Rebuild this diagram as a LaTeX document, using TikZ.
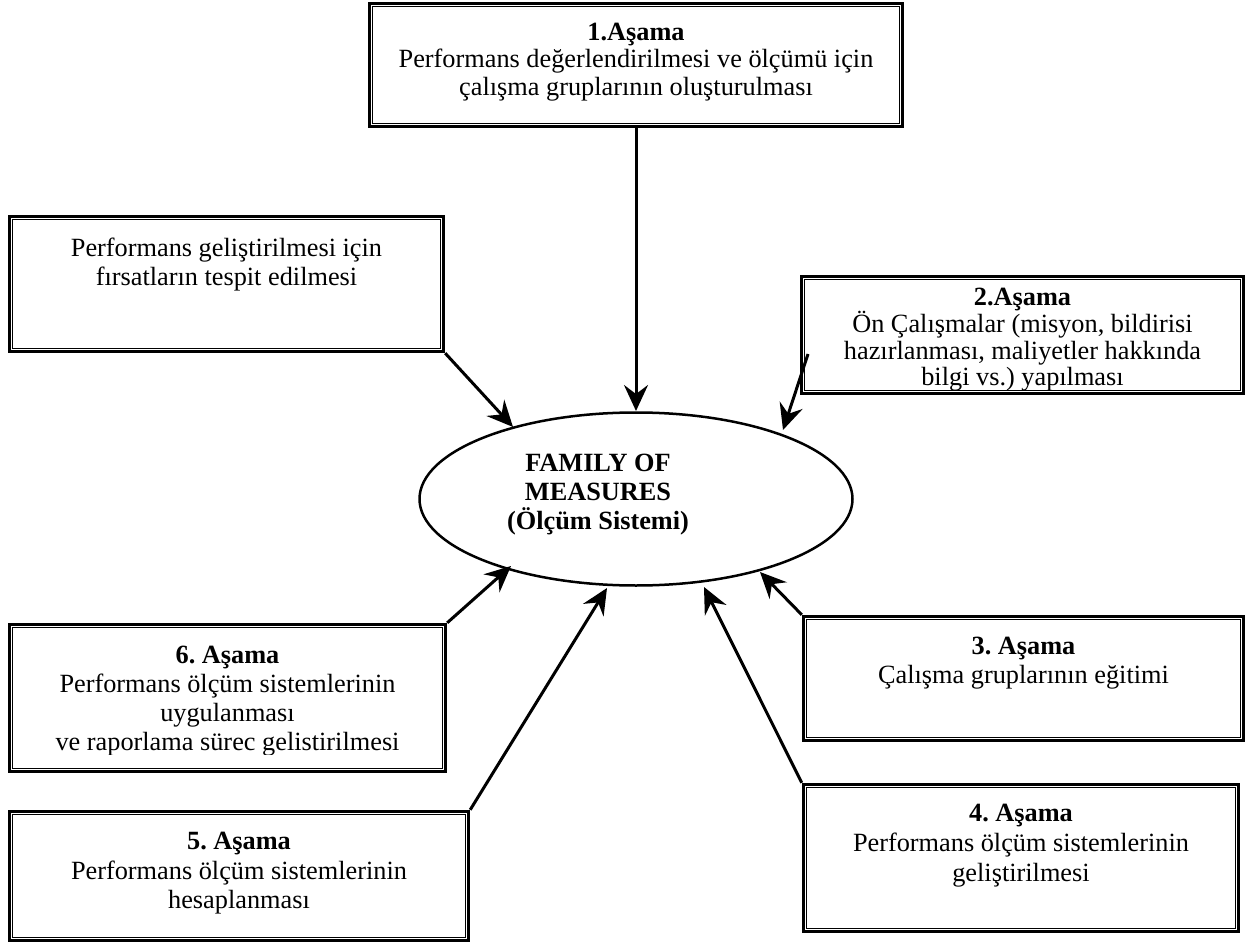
\documentclass[tikz,border=0pt]{standalone}
\usepackage{fontspec}
\setmainfont{Liberation Serif}
\usetikzlibrary{arrows.meta,shapes.geometric}
\begin{document}
\frenchspacing
\begin{tikzpicture}[x=1pt,y=-1pt,
  stagebox/.style={draw, line width=3.4pt, rectangle, inner sep=0pt},
  innerline/.style={line width=1.4pt},
  stagetxt/.style={align=center, anchor=north, inner sep=0pt,
    font=\fontsize{26.3}{#1}\selectfont, execute at begin node=\strut},
  conn/.style={line width=3pt, -{Stealth[length=26pt,width=24pt,inset=9pt]}},
]
\useasboundingbox (0,0) rectangle (1259,947);

% boxes
\node[stagebox, minimum width=434pt, minimum height=135pt] (b0) at (226.5,284) {};
\node[stagebox, minimum width=533pt, minimum height=123pt] (b1) at (636,65) {};
\node[stagebox, minimum width=442pt, minimum height=116.6pt] (b2) at (1022.5,335) {};
\node[stagebox, minimum width=440pt, minimum height=124pt] (b3) at (1023.5,678.5) {};
\node[stagebox, minimum width=435pt, minimum height=147pt] (b4) at (1021,858) {};
\node[stagebox, minimum width=459pt, minimum height=129pt] (b5) at (239,876) {};
\node[stagebox, minimum width=436pt, minimum height=147pt] (b6) at (227.5,698) {};
\foreach \b in {b0,b1,b2,b3,b4,b5,b6}{
  \draw[innerline] ([shift={(4.6pt,-4.6pt)}]\b.north west) rectangle ([shift={(-4.6pt,4.6pt)}]\b.south east);
}

% texts
\node[stagetxt=27.5] (x1) at (636,22.75) {\textbf{1.Aşama}\\Performans değerlendirilmesi ve ölçümü için\\çalışma gruplarının oluşturulması};
\node[stagetxt=29] (x0) at (226.5,237.7) {Performans geliştirilmesi için\\fırsatların tespit edilmesi};
\node[stagetxt=26.5] (x2) at (1022.5,287.45) {\textbf{2.Aşama}\\Ön Çalışmalar (misyon, bildirisi\\hazırlanması, maliyetler hakkında\\bilgi vs.) yapılması};
\node[stagetxt=29] (x3) at (1023.5,636.7) {\textbf{3. Aşama}\\Çalışma gruplarının eğitimi};
\node[stagetxt=30] (x4) at (1021,804) {\textbf{4. Aşama}\\Performans ölçüm sistemlerinin\\geliştirilmesi};
\node[stagetxt=29.5] (x5) at (239,832.35) {\textbf{5. Aşama}\\Performans ölçüm sistemlerinin\\hesaplanması};
\begin{scope}
  \clip (10,630) rectangle (445,754);
  \node[stagetxt=29] (x6) at (227.5,645.7) {\textbf{6. Aşama}\\Performans ölçüm sistemlerinin\\uygulanması\\ve raporlama sürec gelistirilmesi};
\end{scope}

% central ellipse
\node[draw, ellipse, line width=2.5pt, minimum width=433pt, minimum height=173pt, inner sep=0pt] (ell) at (636,499) {};
\node[align=center, inner sep=0pt, font=\fontsize{26.3}{29}\selectfont\bfseries] (fam) at (598,495) {FAMILY OF\\MEASURES\\(Ölçüm Sistemi)};

% connector ends
\coordinate (s2) at (808,354);
\coordinate (t0) at (513,427);
\coordinate (t1) at (636,411);
\coordinate (t2) at (783,430);
\coordinate (t3) at (760,572);
\coordinate (t4) at (704,587);
\coordinate (t5) at (607,588);
\coordinate (t6) at (511,566);

\draw[conn] (b0.south east) -- (t0);
\draw[conn] (b1.south) -- (t1);
\draw[conn] (s2) -- (t2);
\draw[conn] (b3.north west) -- (t3);
\draw[conn] (b4.north west) -- (t4);
\draw[conn] (b5.north east) -- (t5);
\draw[conn] (b6.north east) -- (t6);
\end{tikzpicture}
\end{document}
